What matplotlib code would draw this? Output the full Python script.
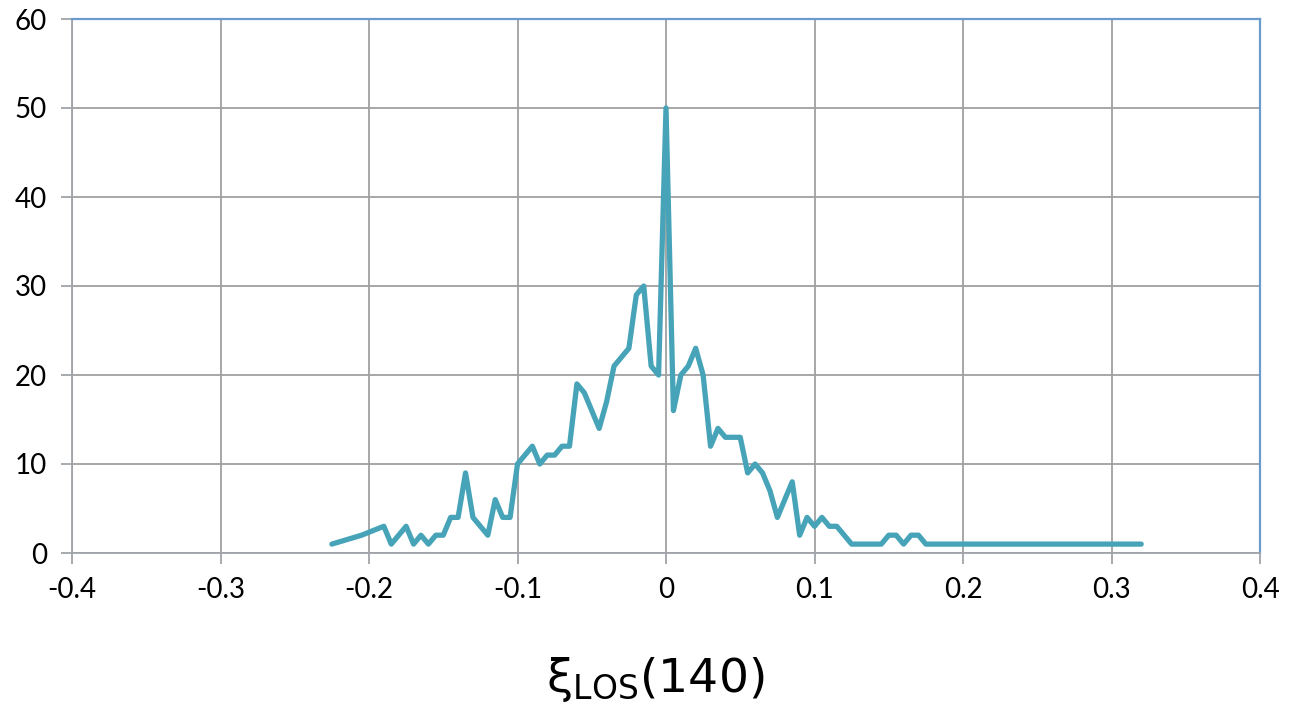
import matplotlib
matplotlib.use("Agg")
import matplotlib.pyplot as plt

xi_values = [-0.225, -0.205, -0.19, -0.185, -0.175, -0.17, -0.165, -0.16, -0.155, -0.15,
             -0.145, -0.14, -0.135, -0.13, -0.125, -0.12, -0.115, -0.11, -0.105, -0.1,
             -0.095, -0.09, -0.085, -0.08, -0.075, -0.07, -0.065, -0.06, -0.055, -0.045,
             -0.04, -0.035, -0.03, -0.025, -0.02, -0.015, -0.01, -0.005, 0.0, 0.005,
             0.01, 0.015, 0.02, 0.025, 0.03, 0.035, 0.04, 0.045, 0.05, 0.055,
             0.06, 0.065, 0.07, 0.075, 0.085, 0.09, 0.095, 0.1, 0.105, 0.11,
             0.115, 0.125, 0.145, 0.15, 0.155, 0.16, 0.165, 0.17, 0.175, 0.32]
counts = [1, 2, 3, 1, 3, 1, 2, 1, 2, 2,
          4, 4, 9, 4, 3, 2, 6, 4, 4, 10,
          11, 12, 10, 11, 11, 12, 12, 19, 18, 14,
          17, 21, 22, 23, 29, 30, 21, 20, 50, 16,
          20, 21, 23, 20, 12, 14, 13, 13, 13, 9,
          10, 9, 7, 4, 8, 2, 4, 3, 4, 3,
          3, 1, 1, 2, 2, 1, 2, 2, 1, 1]
x_ticks = [-0.4, -0.3, -0.2, -0.1, 0, 0.1, 0.2, 0.3, 0.4]
x_tick_labels = ["-0.4", "-0.3", "-0.2", "-0.1", "0", "0.1", "0.2", "0.3", "0.4"]
y_ticks = [0, 10, 20, 30, 40, 50, 60]

plt.rcParams['mathtext.fontset'] = 'dejavusans'
fig = plt.figure(figsize=(12.91, 7.08), dpi=100)
ax = fig.add_axes([72/1291, 1 - 553/708, (1260-72)/1291, (553-19)/708])

ax.plot(xi_values, counts, color='#47A4B8', linewidth=3.8, solid_capstyle='round',
        solid_joinstyle='round', zorder=3)

ax.set_xlim(-0.4, 0.4)
ax.set_ylim(0, 60)
ax.set_xticks(x_ticks)
ax.set_xticklabels(x_tick_labels)
ax.set_yticks(y_ticks)
ax.grid(True, color='#A0A0A0', linewidth=1.3, zorder=0)
ax.set_axisbelow(True)

for s in ['top', 'right']:
    ax.spines[s].set_color('#6A9BCF')
    ax.spines[s].set_linewidth(1.6)
for s in ['left', 'bottom']:
    ax.spines[s].set_color('#A0A4A8')
    ax.spines[s].set_linewidth(1.3)

ax.tick_params(axis='x', direction='out', length=8, width=1.3, color='#A0A4A8',
               labelsize=20, pad=9)
ax.tick_params(axis='y', direction='out', length=8, width=1.3, color='#A0A4A8',
               labelsize=20, pad=10)
for lab in ax.get_xticklabels() + ax.get_yticklabels():
    lab.set_fontfamily('Lato')

fig.text(655/1291, 1 - 692/708, 'ξ$_{\\mathrm{LOS}}$(140)', fontsize=34,
         ha='center', va='baseline', family='DejaVu Sans')

fig.savefig('out.png', dpi=100)
